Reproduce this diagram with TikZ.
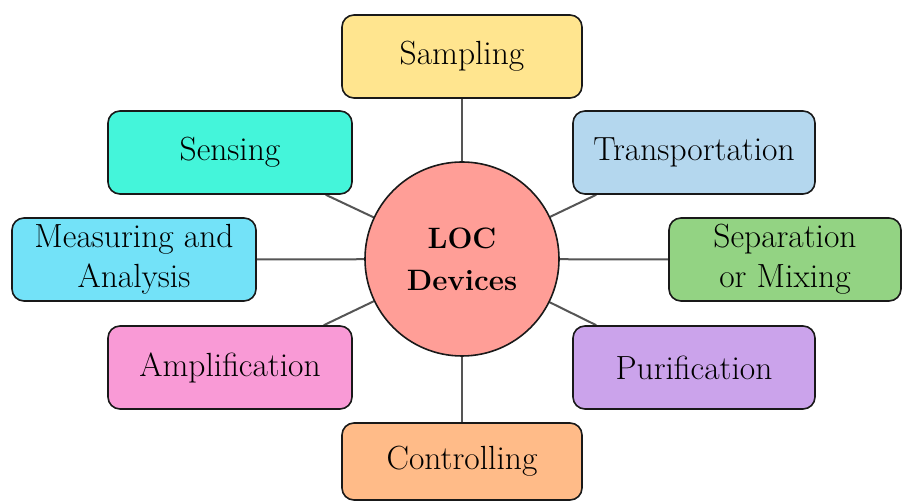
\documentclass[tikz,border=0pt]{standalone}
\usepackage{fontspec}
\usetikzlibrary{backgrounds,calc}
\definecolor{cSamp}{RGB}{255,229,143}
\definecolor{cTrans}{RGB}{180,215,238}
\definecolor{cSens}{RGB}{68,245,218}
\definecolor{cMeas}{RGB}{115,226,248}
\definecolor{cSep}{RGB}{147,211,131}
\definecolor{cAmpl}{RGB}{249,154,214}
\definecolor{cPuri}{RGB}{203,163,235}
\definecolor{cCtrl}{RGB}{255,187,136}
\definecolor{cCirc}{RGB}{255,158,151}
\definecolor{cLine}{RGB}{85,85,85}
\begin{document}
\begin{tikzpicture}[x=1pt,y=1pt,
  boxnode/.style={draw=black!90, line width=1.6pt, rounded corners=12pt,
    minimum height=83pt, inner sep=0pt, align=center,
    font=\fontsize{33.5}{40}\selectfont},
  hub/.style={circle, draw=black!90, line width=1.6pt, fill=cCirc,
    minimum size=194pt, inner sep=0pt, align=center,
    font=\bfseries\fontsize{29.5}{42}\selectfont},
  link/.style={draw=cLine, line width=2pt}]
\useasboundingbox (0,0) rectangle (902,502);
\node[hub] (c) at (462,243) {LOC\\Devices};
\node[boxnode, fill=cSamp, minimum width=240pt] (samp) at (462,445.5) {Sampling};
\node[boxnode, fill=cTrans, minimum width=242pt] (trans) at (694,349.5) {Transportation};
\node[boxnode, fill=cSens, minimum width=244pt] (sens) at (230,349.5) {Sensing};
\node[boxnode, fill=cMeas, minimum width=244pt] (meas) at (134,242.5) {Measuring and\\Analysis};
\node[boxnode, fill=cSep, minimum width=232pt] (sep) at (785,242.5) {Separation\\or Mixing};
\node[boxnode, fill=cAmpl, minimum width=244pt] (ampl) at (230,134.5) {Amplification};
\node[boxnode, fill=cPuri, minimum width=242pt] (puri) at (694,134.5) {Purification};
\node[boxnode, fill=cCtrl, minimum width=240pt, minimum height=77pt] (ctrl) at (462,40.5) {Controlling};
\coordinate (sensE) at ($(sens.south east)+(-27,0)$);
\coordinate (transE) at ($(trans.south west)+(24,0)$);
\coordinate (amplE) at ($(ampl.north east)+(-29,0)$);
\coordinate (puriE) at ($(puri.north west)+(24,0)$);
\begin{pgfonlayer}{background}
\draw[link] (c.center) -- (samp.south);
\draw[link] (c.center) -- (ctrl.north);
\draw[link] (c.center) -- (meas.east);
\draw[link] (c.center) -- (sep.west);
\draw[link] (c.center) -- (sensE);
\draw[link] (c.center) -- (transE);
\draw[link] (c.center) -- (amplE);
\draw[link] (c.center) -- (puriE);
\end{pgfonlayer}
\end{tikzpicture}
\end{document}
